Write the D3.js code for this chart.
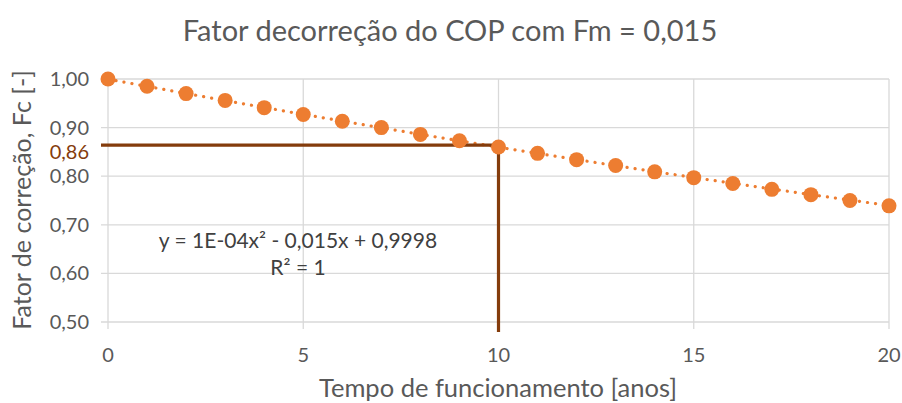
<!DOCTYPE html>
<html><head><meta charset="utf-8">
<script src="https://cdn.jsdelivr.net/npm/d3@7"></script>
<style>body{margin:0;background:#fff}text{font-family:Lato,"Open Sans",sans-serif}</style>
</head><body><svg id="c" width="902" height="403"></svg>
<script>
const years = [0,1,2,3,4,5,6,7,8,9,10,11,12,13,14,15,16,17,18,19,20];
const fc = [1.000,0.985,0.970,0.956,0.941,0.927,0.913,0.900,0.886,0.873,0.860,0.847,0.834,0.822,0.809,0.797,0.785,0.773,0.762,0.750,0.739];
const trend = {a:0.0001, b:-0.015, c:0.9998};
const xTicks = [0,5,10,15,20];
const yTicks = [0.5,0.6,0.7,0.8,0.9,1.0];
const refX = 10, refY = 0.86;
const title = "Fator decorreção do COP com Fm = 0,015";
const xTitle = "Tempo de funcionamento [anos]";
const yTitle = "Fator de correção, Fc [-]";
const eqText = "y = 1E-04x² - 0,015x + 0,9998";
const r2Text = "R² = 1";

const svg = d3.select("#c");
const x = d3.scaleLinear().domain([0,20]).range([108,889]);
const y = d3.scaleLinear().domain([0.5,1.0]).range([322,79]);
const fmt = v => d3.format(".2f")(v).replace(".", ",");

// gridlines
svg.append("g").selectAll("line").data(yTicks).join("line")
  .attr("x1",101).attr("x2",889).attr("y1",d=>y(d)).attr("y2",d=>y(d))
  .attr("stroke","#d9d9d9").attr("stroke-width",1.3);
svg.append("g").selectAll("line").data(xTicks).join("line")
  .attr("x1",d=>x(d)).attr("x2",d=>x(d)).attr("y1",79).attr("y2",329)
  .attr("stroke","#d9d9d9").attr("stroke-width",1.3);

// tick labels
svg.append("g").selectAll("text").data(yTicks).join("text")
  .attr("x",89).attr("y",d=>y(d)).attr("dy","0.35em").attr("text-anchor","end")
  .attr("font-size",20).attr("fill","#595959").text(fmt);
svg.append("g").selectAll("text").data(xTicks).join("text")
  .attr("x",d=>x(d)).attr("y",355).attr("dy","0.35em").attr("text-anchor","middle")
  .attr("font-size",20).attr("fill","#595959").text(d=>d);

// trendline (dotted)
const tx = d3.range(0,20.01,0.25);
svg.append("path").datum(tx)
  .attr("d", d3.line().x(d=>x(d)).y(d=>y(trend.a*d*d+trend.b*d+trend.c)))
  .attr("fill","none").attr("stroke","#ED7D31").attr("stroke-width",3.2)
  .attr("stroke-linecap","round").attr("stroke-dasharray","0.1 8");

// reference lines
svg.append("path")
  .attr("d", `M101,${y(refY)-2}H${x(refX)}V332`)
  .attr("fill","none").attr("stroke","#843C0C").attr("stroke-width",3.2);
svg.append("text").attr("x",89).attr("y",y(refY)+5).attr("dy","0.35em")
  .attr("text-anchor","end").attr("font-size",20).attr("fill","#843C0C").text(fmt(refY));

// markers
svg.append("g").selectAll("circle").data(years).join("circle")
  .attr("cx",d=>x(d)).attr("cy",(d,i)=>y(fc[i])).attr("r",7.5).attr("fill","#ED7D31");

// equation
svg.append("text").attr("x",298).attr("y",241).attr("dy","0.35em")
  .attr("text-anchor","middle").attr("font-size",21).attr("fill","#404040").text(eqText);
svg.append("text").attr("x",298).attr("y",268).attr("dy","0.35em")
  .attr("text-anchor","middle").attr("font-size",21).attr("fill","#404040").text(r2Text);

// titles
svg.append("text").attr("x",450).attr("y",31).attr("dy","0.35em").attr("text-anchor","middle")
  .attr("font-size",29).attr("fill","#595959").text(title);
svg.append("text").attr("x",498).attr("y",388).attr("dy","0.35em").attr("text-anchor","middle")
  .attr("font-size",25.5).attr("fill","#595959").text(xTitle);
svg.append("text").attr("transform","translate(22,200) rotate(-90)").attr("dy","0.35em")
  .attr("text-anchor","middle").attr("font-size",25).attr("fill","#595959").text(yTitle);
</script></body></html>
